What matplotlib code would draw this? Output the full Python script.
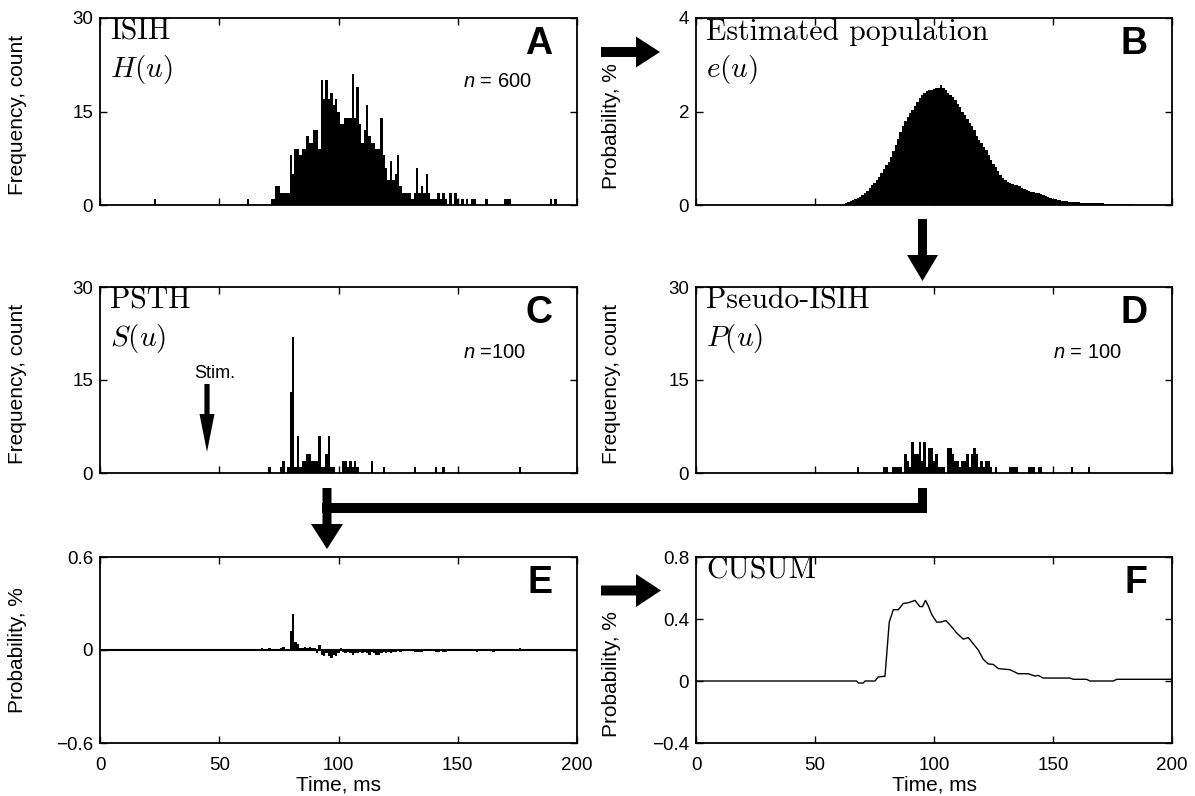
import numpy as np
import matplotlib
matplotlib.use("Agg")
import matplotlib.pyplot as plt
from matplotlib.patches import Polygon

plt.rcParams['font.family'] = ['Liberation Sans', 'DejaVu Sans']
plt.rcParams['mathtext.fontset'] = 'cm'
plt.rcParams['mathtext.rm'] = 'Liberation Sans'
plt.rcParams['mathtext.it'] = 'Liberation Sans:italic'

# ---------------- data ----------------
# A: ISIH, 1-ms bins
A_time = [23, 62] + list(range(72, 146)) + [147, 149, 150, 152, 154, 156, 157, 162, 170, 171, 172, 189, 191]
A_count = [1, 1,
           1, 1, 3, 3, 2, 2, 2, 2,
           8, 5, 9, 9, 8, 9, 9, 11, 10, 10,
           12, 12, 9, 20, 17, 20, 17, 18, 16, 17,
           15, 13, 13, 14, 14, 14, 21, 14, 19, 13,
           10, 12, 16, 11, 10, 10, 9, 9, 14, 8,
           6, 4, 7, 4, 5, 8, 3, 2, 2, 2,
           2, 1, 2, 6, 2, 3, 2, 5, 2, 1,
           1, 1, 2, 1, 2, 1,
           2, 2, 1, 1, 1, 1, 1, 1, 1, 1, 1, 1, 1]

# B: estimated population e(u), %, 1-ms bins starting at 60 ms
B_start = 60
B_value = [0.01, 0.01, 0.02, 0.04, 0.06, 0.08, 0.10, 0.12, 0.15, 0.18,
           0.22, 0.26, 0.31, 0.36, 0.42, 0.48, 0.54, 0.60, 0.68, 0.76,
           0.85, 0.93, 1.02, 1.15, 1.28, 1.42, 1.56, 1.70, 1.80, 1.89,
           1.96, 2.04, 2.12, 2.20, 2.28, 2.35, 2.40, 2.44, 2.46, 2.47,
           2.49, 2.50, 2.51, 2.56, 2.50, 2.45, 2.40, 2.36, 2.31, 2.24,
           2.16, 2.09, 2.00, 1.92, 1.85, 1.76, 1.70, 1.60, 1.48, 1.39,
           1.32, 1.24, 1.17, 1.07, 0.97, 0.88, 0.81, 0.73, 0.65, 0.58,
           0.53, 0.50, 0.48, 0.45, 0.43, 0.42, 0.40, 0.37, 0.34, 0.32,
           0.30, 0.28, 0.27, 0.26, 0.25, 0.24, 0.22, 0.19, 0.17, 0.15,
           0.13, 0.12, 0.11, 0.10, 0.09, 0.08, 0.08, 0.07, 0.07, 0.06,
           0.06, 0.06, 0.05, 0.05, 0.05, 0.05, 0.05, 0.04, 0.04, 0.04,
           0.04, 0.04, 0.03, 0.03, 0.03, 0.03, 0.03, 0.03, 0.02, 0.02,
           0.02, 0.02, 0.02, 0.02, 0.01, 0.01, 0.01, 0.01, 0.01, 0.01, 0.01]

# C: PSTH
C_time = [71, 76, 77, 79, 80, 81, 82, 83, 84, 85, 86, 87, 88, 89, 90, 91, 92, 93, 94, 95,
          96, 97, 98, 102, 103, 104, 105, 106, 107, 108, 114, 119, 132, 141, 144, 176]
C_count = [1, 1, 2, 1, 13, 22, 1, 6, 1, 2, 2, 3, 3, 2, 2, 2, 6, 1, 1, 3,
           6, 1, 1, 2, 2, 1, 2, 1, 2, 1, 2, 1, 1, 1, 1, 1]

# D: Pseudo-ISIH
D_time = [68, 79, 80, 83, 84, 85, 86, 88, 89, 90, 91, 92, 93, 94, 95, 96, 97, 98, 99, 100,
          101, 102, 103, 104, 106, 107, 108, 109, 110, 111, 112, 113, 114, 115, 116, 117, 118,
          119, 120, 121, 122, 123, 124, 126, 132, 133, 134, 135, 140, 141, 142, 144, 145, 158, 165]
D_count = [1, 1, 1, 1, 1, 1, 1, 3, 2, 1, 5, 3, 3, 5, 2, 5, 1, 4, 4, 2,
           3, 1, 1, 1, 4, 4, 3, 2, 2, 1, 2, 2, 3, 1, 3, 4, 3,
           1, 2, 1, 2, 2, 1, 1, 1, 1, 1, 1, 1, 1, 1, 1, 1, 1, 1]

# E: difference, %
E_time = [68, 71, 76, 77, 80] + list(range(81, 125)) + [126, 132, 133, 134, 135, 141, 142, 144, 145, 158, 165, 176]
E_value = [0.01, 0.01, 0.01, 0.02, 0.12,
           0.23, 0.05, 0.04, 0.01, 0.01, 0.02, 0.01, 0.02, 0.01, 0.01,
           -0.02, 0.03, -0.03, -0.04, -0.02, -0.04, -0.05, -0.03, -0.04, -0.02,
           0.01, -0.01, -0.02, -0.01, -0.02, -0.03, -0.02, -0.02, -0.01, -0.02,
           -0.01, -0.02, -0.03, -0.01, -0.02, -0.03, -0.03, -0.02, -0.01, -0.02,
           -0.01, -0.02, -0.01, -0.01,
           -0.01, -0.01, -0.01, -0.01, -0.01, -0.01, -0.01, -0.01, -0.01, -0.01, -0.01, 0.01]

# F: CUSUM
F_time = [0, 67.5, 68.2, 70.3, 71, 75.2, 76.6, 78.7, 79.4, 81.2, 82.9, 85, 87.1, 89.2, 92,
          94.1, 95.2, 96.4, 97.6, 99, 101.1, 102.8, 105, 107.4, 109.5, 112.3, 114.4, 116.5,
          118.6, 120.7, 122.8, 124.9, 127, 131.9, 135.4, 139.6, 142.4, 143.8, 145.9, 157.1,
          158.5, 164.1, 165.5, 175.3, 176.8, 200]
F_value = [0, 0, -0.013, -0.013, 0, 0, 0.026, 0.03, 0.03, 0.38, 0.46, 0.46, 0.50, 0.505, 0.52,
           0.48, 0.48, 0.52, 0.485, 0.43, 0.38, 0.38, 0.39, 0.35, 0.31, 0.27, 0.28, 0.24,
           0.20, 0.14, 0.11, 0.107, 0.08, 0.073, 0.047, 0.047, 0.032, 0.036, 0.019, 0.019,
           0.011, 0.011, 0, 0, 0.011, 0.011]

x_ticks = [0, 50, 100, 150, 200]
count_ticks = [0, 15, 30]
B_ticks = [0, 2, 4]
E_ticks = [-0.6, 0, 0.6]
E_ticklabels = ['\u22120.6', '0', '0.6']
F_ticks = [-0.4, 0, 0.4, 0.8]
F_ticklabels = ['\u22120.4', '0', '0.4', '0.8']

# ---------------- figure ----------------
W, H = 1195, 796
fig = plt.figure(figsize=(W / 100, H / 100), dpi=100)


def pos(x0, y0, x1, y1):
    return [x0 / W, 1 - y1 / H, (x1 - x0) / W, (y1 - y0) / H]


axA = fig.add_axes(pos(100, 18, 577, 205))
axB = fig.add_axes(pos(696, 18, 1172, 205))
axC = fig.add_axes(pos(100, 287, 577, 473))
axD = fig.add_axes(pos(696, 287, 1172, 473))
axE = fig.add_axes(pos(100, 557, 577, 743))
axF = fig.add_axes(pos(696, 557, 1172, 743))

TICK = 13.5
for ax in [axA, axB, axC, axD, axE, axF]:
    ax.set_xlim(0, 200)
    ax.set_xticks(x_ticks)
    ax.tick_params(direction='in', length=5, width=1, top=True, right=True,
                   labelsize=TICK)
    ax.tick_params(axis='y', pad=5)
    ax.tick_params(axis='x', pad=10)
    for s in ax.spines.values():
        s.set_linewidth(1.3)
for ax in [axA, axB, axC, axD]:
    ax.set_xticklabels([])

bar_kw = dict(width=1.0, color='black', linewidth=0, align='center')

axA.bar(A_time, A_count, **bar_kw)
axA.set_ylim(0, 30)
axA.set_yticks(count_ticks)

B_time = np.arange(len(B_value)) + B_start
axB.bar(B_time, B_value, **bar_kw)
axB.set_ylim(0, 4)
axB.set_yticks(B_ticks)

axC.bar(C_time, C_count, **bar_kw)
axC.set_ylim(0, 30)
axC.set_yticks(count_ticks)

axD.bar(D_time, D_count, **bar_kw)
axD.set_ylim(0, 30)
axD.set_yticks(count_ticks)

axE.bar(E_time, E_value, **bar_kw)
axE.axhline(0, color='black', linewidth=1.5)
axE.set_ylim(-0.6, 0.6)
axE.set_yticks(E_ticks, E_ticklabels)

axF.plot(F_time, F_value, color='black', linewidth=1.0)
axF.set_ylim(-0.4, 0.8)
axF.set_yticks(F_ticks, F_ticklabels)

LAB = 15
for ax, lab, yc in [(axA, 'Frequency, count', 0.48), (axC, 'Frequency, count', 0.48),
                    (axE, 'Probability, %', 0.5)]:
    ax.set_ylabel(lab, fontsize=LAB)
    ax.yaxis.set_label_coords(-0.152, yc)
for ax, lab, yc in [(axB, 'Probability, %', 0.42), (axD, 'Frequency, count', 0.48),
                    (axF, 'Probability, %', 0.37)]:
    ax.set_ylabel(lab, fontsize=LAB)
    ax.yaxis.set_label_coords(-0.157, yc)
for ax in [axE, axF]:
    ax.set_xlabel('Time, ms', fontsize=LAB, labelpad=1)

# titles / formulas
SERIF = 21.5
titles = [(axA, 'ISIH', r'$H(u)$', 'A'), (axB, 'Estimated population', r'$e(u)$', 'B'),
          (axC, 'PSTH', r'$S(u)$', 'C'), (axD, 'Pseudo-ISIH', r'$P(u)$', 'D'),
          (axE, None, None, 'E'), (axF, 'CUSUM', None, 'F')]
for ax, t, f, L in titles:
    if t:
        ax.text(0.021, 1.0, t, transform=ax.transAxes, family='cmr10',
                fontsize=SERIF, va='top', ha='left')
    if f:
        ax.text(0.021, 0.725, f, transform=ax.transAxes, fontsize=21,
                va='center', ha='left')
    ax.text(0.948, 0.86, L, transform=ax.transAxes, fontsize=27, fontweight='bold',
            va='center', ha='right')

NS = 14.5
axA.text(0.761, 0.66, r'$n$ = 600', transform=axA.transAxes, fontsize=NS,
         va='center', ha='left', math_fontfamily='custom')
axC.text(0.761, 0.65, r'$n$ =100', transform=axC.transAxes, fontsize=NS,
         va='center', ha='left', math_fontfamily='custom')
axD.text(0.75, 0.65, r'$n$ = 100', transform=axD.transAxes, fontsize=NS,
         va='center', ha='left', math_fontfamily='custom')

# ---------------- arrows (pixel overlay) ----------------
ov = fig.add_axes([0, 0, 1, 1], zorder=10)
ov.set_xlim(0, W)
ov.set_ylim(H, 0)
ov.axis('off')
ov.patch.set_alpha(0)


def harrow(x0, xb, xt, yc, sh, hh):
    pts = [(x0, yc - sh), (xb, yc - sh), (xb, yc - hh), (xt, yc), (xb, yc + hh),
           (xb, yc + sh), (x0, yc + sh)]
    ov.add_patch(Polygon(pts, closed=True, color='black', lw=0))


def varrow(xc, y0, yb, yt, sh, hh):
    pts = [(xc - sh, y0), (xc - sh, yb), (xc - hh, yb), (xc, yt), (xc + hh, yb),
           (xc + sh, yb), (xc + sh, y0)]
    ov.add_patch(Polygon(pts, closed=True, color='black', lw=0))


# Stim. arrow and label in C
varrow(207, 384, 414, 452, 2.6, 7.5)
ov.text(215, 378, 'Stim.', fontsize=13, ha='center', va='baseline')

harrow(601, 636, 660, 52, 5, 15.5)
harrow(601, 636, 661, 590.5, 5, 16.5)
varrow(922.5, 219, 255, 281, 4.5, 15.5)
varrow(327, 488, 524, 549, 4.5, 16)
# connector from D to E
ov.add_patch(Polygon([(322.5, 503), (927, 503), (927, 513), (322.5, 513)], closed=True,
                     color='black', lw=0))
ov.add_patch(Polygon([(918, 488), (927, 488), (927, 513), (918, 513)], closed=True,
                     color='black', lw=0))

fig.savefig('out.png', dpi=100)
